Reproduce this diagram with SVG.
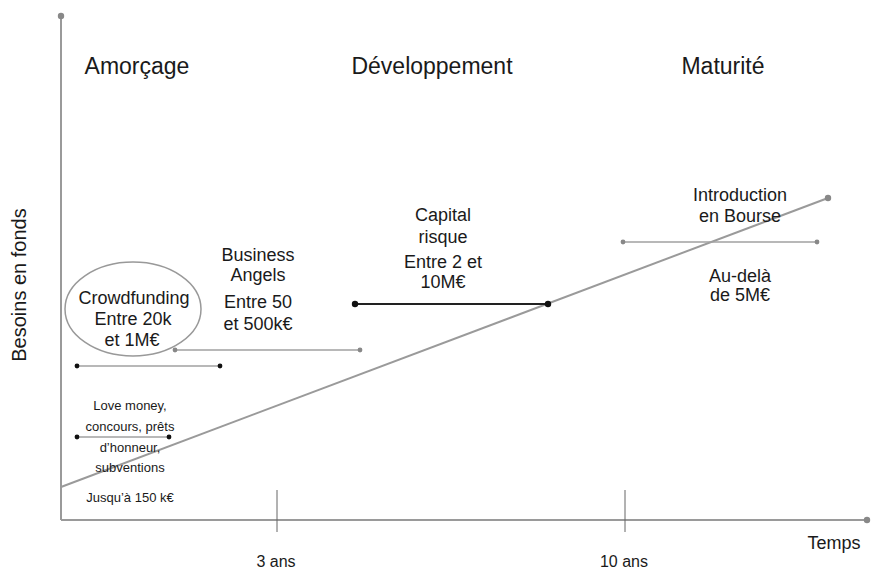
<svg xmlns="http://www.w3.org/2000/svg" width="874" height="573" viewBox="0 0 874 573">
<defs>
<style>
text{font-family:"Liberation Sans",Arial,sans-serif;fill:#1a1a1a;text-anchor:middle}
.h{font-size:23px}
.m{font-size:18px}
.s{font-size:13px}
.a{font-size:16px}
.ax{stroke:#9a9a9a;stroke-width:2;fill:none}
.g{stroke:#a0a0a0;stroke-width:1.5;fill:none}
.k{stroke:#222;stroke-width:2;fill:none}
.t{stroke:#666;stroke-width:1;fill:none}
</style>
<marker id="dg" viewBox="0 0 10 10" refX="5" refY="5" markerWidth="4" markerHeight="4"><circle cx="5" cy="5" r="4" fill="#888"/></marker>
<marker id="dk" viewBox="0 0 10 10" refX="5" refY="5" markerWidth="4" markerHeight="4"><circle cx="5" cy="5" r="4" fill="#111"/></marker>
</defs>
<rect width="874" height="573" fill="#fff"/>
<g id="connectors">
<line class="ax" x1="61" y1="520" x2="61" y2="16" marker-end="url(#dg)"/>
<line class="ax" x1="61" y1="520" x2="867" y2="520" marker-end="url(#dg)"/>
<line class="t" x1="277" y1="490" x2="277" y2="532"/>
<line class="t" x1="625" y1="490" x2="625" y2="532"/>
<line class="ax" x1="61" y1="487" x2="828" y2="198" marker-end="url(#dg)"/>
<line class="g" x1="77" y1="366" x2="220" y2="366" marker-start="url(#dk)" marker-end="url(#dk)"/>
<line class="g" x1="175" y1="350" x2="360" y2="350" marker-start="url(#dg)" marker-end="url(#dg)"/>
<line class="k" x1="355" y1="304" x2="548" y2="304" marker-start="url(#dk)" marker-end="url(#dk)"/>
<line class="g" x1="623" y1="242" x2="817" y2="242" marker-start="url(#dg)" marker-end="url(#dg)"/>
<line class="g" x1="77" y1="437" x2="169" y2="437" marker-start="url(#dk)" marker-end="url(#dk)"/>
</g>
<g id="phases">
<text class="h" x="137" y="74">Amorçage</text>
<text class="h" x="432" y="74">Développement</text>
<text class="h" x="723" y="74">Maturité</text>
</g>
<g id="axis-labels">
<text transform="translate(26,285) rotate(-90)" style="font-size:20px">Besoins en fonds</text>
<text x="834" y="549" style="font-size:18px">Temps</text>
<text class="a" x="276" y="567">3 ans</text>
<text class="a" x="624" y="567">10 ans</text>
</g>
<g id="crowdfunding">
<ellipse cx="133" cy="309" rx="68" ry="47" fill="none" stroke="#999" stroke-width="1.5"/>
<text class="m" x="134" y="304">Crowdfunding</text>
<text class="m" x="133" y="325">Entre 20k</text>
<text class="m" x="132" y="346">et 1M€</text>
</g>
<g id="business-angels">
<text class="m" x="258" y="261">Business</text>
<text class="m" x="258" y="281">Angels</text>
<text class="m" x="258" y="308">Entre 50</text>
<text class="m" x="258" y="330">et 500k€</text>
</g>
<g id="capital-risque">
<text class="m" x="443" y="221">Capital</text>
<text class="m" x="443" y="243">risque</text>
<text class="m" x="443" y="268">Entre 2 et</text>
<text class="m" x="443" y="288">10M€</text>
</g>
<g id="bourse">
<text class="m" x="740" y="201">Introduction</text>
<text class="m" x="740" y="222">en Bourse</text>
<text class="m" x="740" y="282">Au-delà</text>
<text class="m" x="740" y="301">de 5M€</text>
</g>
<g id="love-money">
<text class="s" x="130" y="410">Love money,</text>
<text class="s" x="130" y="431">concours, prêts</text>
<text class="s" x="130" y="452">d’honneur,</text>
<text class="s" x="130" y="472">subventions</text>
<text class="s" x="130" y="502">Jusqu’à 150 k€</text>
</g>
</svg>
